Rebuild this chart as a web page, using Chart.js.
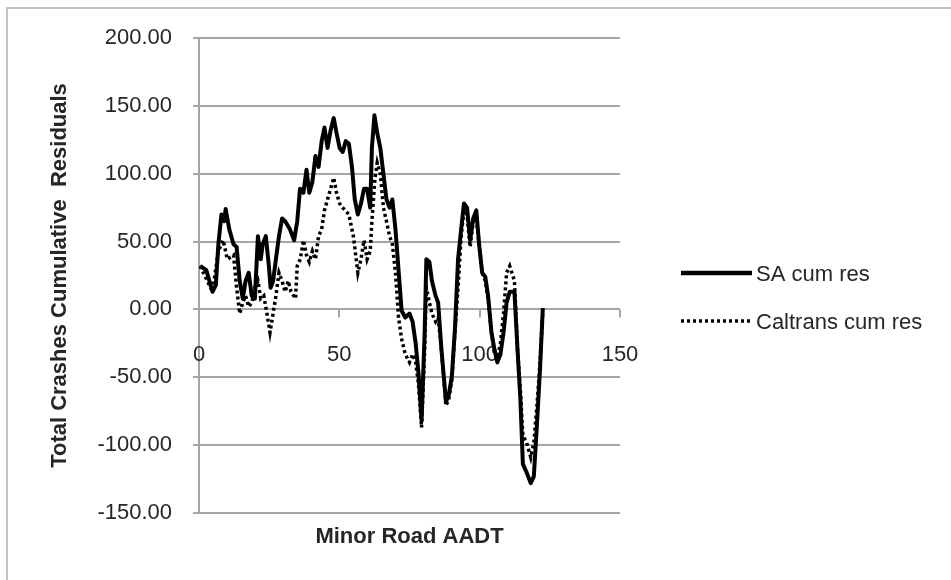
<!DOCTYPE html>
<html lang="en">
<head>
<meta charset="utf-8">
<title>Total Crashes Cumulative Residuals</title>
<script src="https://cdn.jsdelivr.net/npm/chart.js@4.4.1/dist/chart.umd.min.js"></script>
<style>
    html, body {
        margin: 0;
        padding: 0;
        background: #ffffff;
        overflow: hidden;
    }
    .chart-frame {
        position: absolute;
        left: 6px;
        top: 7px;
        width: 1000px;
        height: 640px;
        border-left: 2px solid #c4c4c4;
        border-top: 2px solid #c4c4c4;
    }
    #residuals-chart {
        position: absolute;
        left: 0;
        top: 0;
    }
</style>
</head>
<body>
<div class="chart-frame"></div>
<canvas id="residuals-chart" width="951" height="580"></canvas>

<script>
const seriesNames = ['SA cum res', 'Caltrans cum res'];
const xTitle = 'Minor Road AADT';
const yTitle = 'Total Crashes Cumulative  Residuals';
const xTickValues = [0, 50, 100, 150];
const yTickValues = [-150, -100, -50, 0, 50, 100, 150, 200];

// SA cumulative residuals
const saX = [0.4, 2.6, 4.8, 6, 6.9, 8, 9, 9.5, 10.8, 12.3, 13.4, 14.5, 15.6, 16.6, 17.7, 18.8, 19.9, 21, 22, 22.7,
    23.8, 24.9, 25.5, 26.4, 27.4, 28.5, 29.6, 30.7, 32.4, 33.9, 35, 36, 37.2, 38.3, 39.3, 40.4, 41.5, 42.6, 43.7, 44.7,
    45.8, 46.9, 48, 49, 50.1, 51.2, 52.3, 53.4, 54.5, 55.5, 56.6, 57.7, 58.8, 59.9, 61, 61.6, 62.5, 63.5, 64.6, 65.7,
    66.8, 67.9, 68.9, 70, 71.1, 72.2, 73.5, 75, 76.1, 77.2, 78.2, 79.3, 80.4, 81, 82.1, 83, 84.3, 85.2, 86.4, 88,
    89, 90.1, 91.2, 92.3, 93.4, 94.4, 95.5, 96.6, 97.7, 98.8, 99.8, 100.9, 102, 103, 104.2, 105.3, 106.3, 107.4, 108.5, 109.6,
    110.7, 112.4, 113.5, 114.5, 115.4, 116.7, 118.2, 119.3, 120.4, 121.5, 122.5];
const saY = [32, 29, 13, 18, 48, 70, 65, 74, 59, 48, 46, 21, 8, 21, 27, 10, 8, 54, 37, 48,
    54, 32, 16, 21, 37, 54, 67, 65, 59, 51, 65, 89, 86, 103, 86, 94, 113, 105, 124, 134,
    119, 132, 141, 130, 119, 116, 124, 122, 105, 81, 70, 78, 89, 89, 75, 119, 143, 130, 119, 100,
    81, 75, 81, 59, 29, -1, -6, -3, -9, -25, -47, -82, -17, 37, 35, 21, 10, 5, -30, -68,
    -63, -49, -14, 37, 59, 78, 75, 51, 67, 73, 48, 27, 24, 10, -17, -30, -39, -33, -17, 5,
    13, 13, -30, -66, -114, -120, -128, -123, -85, -44, 1];

// Caltrans cumulative residuals
const ctX = [0.4, 4.8, 6.9, 8.6, 10.1, 12.3, 13.4, 14.5, 15.6, 16.6, 17.7, 18.8, 19.9, 21, 22, 23.1, 24.2, 25.3, 26.4, 27.4,
    28.5, 29.6, 30.7, 31.8, 32.8, 34.4, 35, 36.1, 37.2, 38.3, 39.3, 40.4, 41.5, 42.6, 43.7, 44.7, 45.8, 46.9, 48, 49,
    50.1, 51.2, 53.4, 55, 56.6, 57.7, 58.8, 59.9, 61, 61.6, 62.7, 63.5, 64.6, 65.7, 66.8, 67.9, 68.9, 70, 71.1, 72.2,
    73.5, 75, 76.1, 77.2, 78.2, 79.3, 80.4, 81, 82.1, 83, 84.3, 85.2, 86.4, 88, 89, 90.1, 91.2, 92.3, 93.4, 94.4,
    95.5, 96.6, 97.7, 98.8, 99.8, 100.9, 102, 103, 104.2, 105.3, 106.3, 107.4, 108.5, 109.6, 110.7, 112.4, 113.5, 114.5, 115.4, 116.7,
    118.2, 119.3, 120.4, 121.5, 122.5];
const ctY = [32, 13, 43, 51, 37, 40, 16, -3, 5, 10, 2, 5, 16, 21, 8, 10, -3, -17, -3, 10,
    27, 21, 13, 21, 13, 8, 32, 37, 51, 40, 35, 43, 37, 54, 59, 73, 81, 89, 97, 86,
    78, 75, 70, 54, 27, 37, 51, 37, 43, 65, 97, 108, 100, 75, 65, 54, 48, 27, -6, -22,
    -33, -39, -33, -39, -55, -87, -30, 16, 5, -3, -9, -6, -30, -71, -66, -52, -17, 16, 54, 73,
    70, 46, 65, 67, 48, 27, 21, 8, -17, -33, -36, -25, -3, 27, 32, 21, -30, -60, -93, -98,
    -109, -98, -71, -39, -1];

const fontFamily = "'Liberation Sans', Arial, sans-serif";
const gridColor = '#a6a6a6';
const textColor = '#262626';

function toPoints(xs, ys) {
    return xs.map((x, i) => ({x: x, y: ys[i]}));
}

// x axis crosses at y = 0, labels sit well below it
const zeroAxisPlugin = {
    id: 'zeroAxis',
    beforeDatasetsDraw(chart) {
        const ctx = chart.ctx;
        const xScale = chart.scales.x;
        const yZero = chart.scales.y.getPixelForValue(0);
        ctx.save();
        ctx.strokeStyle = gridColor;
        ctx.lineWidth = 2;
        ctx.beginPath();
        xScale.ticks.forEach(tick => {
            const px = Math.round(xScale.getPixelForValue(tick.value));
            ctx.moveTo(px, yZero);
            ctx.lineTo(px, yZero + 8);
        });
        ctx.stroke();
        ctx.fillStyle = textColor;
        ctx.font = '22px ' + fontFamily;
        ctx.textAlign = 'center';
        ctx.textBaseline = 'middle';
        xScale.ticks.forEach(tick => {
            ctx.fillText(String(tick.value), xScale.getPixelForValue(tick.value), yZero + 46);
        });
        ctx.restore();
    }
};

const sideLegendPlugin = {
    id: 'sideLegend',
    afterDraw(chart) {
        const ctx = chart.ctx;
        const rows = [
            {y: 273, dash: [], width: 4.5},
            {y: 321, dash: [3, 3], width: 3.5}
        ];
        ctx.save();
        rows.forEach((row, i) => {
            ctx.strokeStyle = '#000000';
            ctx.lineWidth = row.width;
            ctx.setLineDash(row.dash);
            ctx.beginPath();
            ctx.moveTo(681, row.y);
            ctx.lineTo(752, row.y);
            ctx.stroke();
            ctx.fillStyle = textColor;
            ctx.font = '22px ' + fontFamily;
            ctx.textAlign = 'left';
            ctx.textBaseline = 'middle';
            ctx.fillText(seriesNames[i], 756, row.y + 2);
        });
        ctx.restore();
    }
};

function drawResidualsChart() {
    const canvas = document.getElementById('residuals-chart');
    new Chart(canvas, {
        type: 'scatter',
        data: {
            datasets: [
                {
                    label: seriesNames[0],
                    data: toPoints(saX, saY),
                    showLine: true,
                    borderColor: '#000000',
                    borderWidth: 4,
                    borderJoinStyle: 'round',
                    pointRadius: 0,
                    tension: 0
                },
                {
                    label: seriesNames[1],
                    data: toPoints(ctX, ctY),
                    showLine: true,
                    borderColor: '#000000',
                    borderWidth: 3.5,
                    borderDash: [3, 3],
                    pointRadius: 0,
                    tension: 0
                }
            ]
        },
        options: {
            responsive: false,
            animation: false,
            devicePixelRatio: 1,
            layout: {
                padding: {top: 38, right: 331, left: 0, bottom: 0}
            },
            plugins: {
                legend: {display: false},
                tooltip: {enabled: false}
            },
            scales: {
                x: {
                    type: 'linear',
                    position: 'bottom',
                    min: 0,
                    max: 150,
                    afterBuildTicks: (scale) => {
                        scale.ticks = xTickValues.map(v => ({value: v}));
                    },
                    afterFit: (scale) => {
                        scale.height = 67;
                    },
                    grid: {display: false},
                    border: {display: false},
                    ticks: {display: false},
                    title: {
                        display: true,
                        text: xTitle,
                        color: textColor,
                        font: {family: fontFamily, size: 22, weight: 'bold'},
                        padding: {top: 0, bottom: 30}
                    }
                },
                y: {
                    type: 'linear',
                    position: 'left',
                    min: -150,
                    max: 200,
                    afterBuildTicks: (scale) => {
                        scale.ticks = yTickValues.map(v => ({value: v}));
                    },
                    afterFit: (scale) => {
                        scale.width = 199;
                    },
                    grid: {
                        color: gridColor,
                        lineWidth: 2,
                        drawTicks: true,
                        tickLength: 6
                    },
                    border: {display: true, color: gridColor, width: 2},
                    ticks: {
                        color: textColor,
                        font: {family: fontFamily, size: 22},
                        padding: 21,
                        callback: (value) => Number(value).toFixed(2)
                    },
                    title: {
                        display: true,
                        text: yTitle,
                        color: textColor,
                        font: {family: fontFamily, size: 22, weight: 'bold'},
                        padding: {top: 47, bottom: 0}
                    }
                }
            }
        },
        plugins: [zeroAxisPlugin, sideLegendPlugin]
    });
}

drawResidualsChart();
</script>
</body>
</html>
